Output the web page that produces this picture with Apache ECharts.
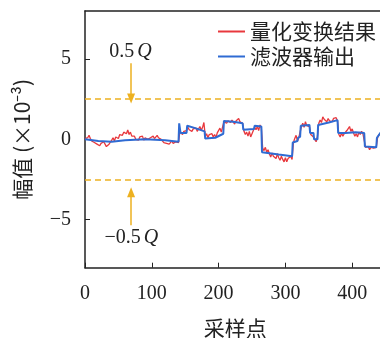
<!DOCTYPE html>
<html><head><meta charset="utf-8">
<script src="https://cdn.jsdelivr.net/npm/echarts@6/dist/echarts.min.js"></script>
<style>html,body{margin:0;padding:0;background:#fff}#c{width:380px;height:338px}</style>
</head><body><div id="c"></div>
<script>
const xTicks = [0, 100, 200, 300, 400];
const yTicks = [-5, 0, 5];
const legendNames = ['量化变换结果', '滤波器输出'];
const redStep = 2; // sample spacing of the red series
const redY = [
  0.05,-0.05,0.1,0.25,0.05,-0.1,0.0,-0.2,-0.1,-0.3,
  -0.2,-0.4,-0.25,-0.35,-0.15,-0.3,-0.45,-0.5,-0.3,-0.2,
  -0.05,0.1,-0.1,0.15,0.2,0.05,0.3,0.4,0.25,0.45,
  0.55,0.35,0.58,0.3,0.45,0.2,0.1,0.2,0.0,0.1,
  -0.05,0.15,0.05,0.2,-0.05,0.1,0.15,0.0,-0.1,0.1,
  0.05,0.2,0.05,0.15,0.25,0.1,0.2,0.0,-0.1,-0.2,
  -0.1,-0.25,-0.15,-0.3,-0.2,-0.1,-0.25,-0.3,-0.15,-0.25,
  -0.2,0.5,0.4,0.3,0.5,0.4,0.55,0.75,0.6,0.7,
  0.5,0.65,0.55,0.7,0.5,0.6,0.8,0.55,0.75,1.05,
  0.2,0.35,0.1,0.3,0.2,0.35,0.15,0.3,0.1,0.4,
  0.5,0.7,0.45,0.55,
  1.1,1.2,1.0,1.15,1.25,1.05,
  1.2,1.1,0.95,1.15,1.05,1.3,1.1,1.2,1.0,
  0.5,0.3,0.45,0.2,0.5,0.15,0.35,0.55,
  0.75,0.6,0.8,0.55,0.9,0.7,
  -0.55,-0.7,-0.5,-0.8,-0.65,-0.9,-1.1,
  -0.85,-1.05,-0.95,-1.2,-0.9,-1.15,-1.3,-1.05,-1.25,-1.4,
  -1.15,-1.4,-1.2,-1.3,-1.05,-1.25,
  -0.2,0.05,0.25,-0.1,0.1,0.15,
  0.8,1.0,0.75,1.1,0.85,0.95,0.8,
  0.3,0.4,0.15,0.25,-0.15,0.2,
  1.0,1.2,1.05,1.4,1.25,1.35,1.1,1.3,1.15,1.25,1.1,1.3,1.2,1.35,1.15,
  0.3,0.15,0.4,0.2,0.35,0.25,
  0.55,0.45,0.8,0.5,0.65,0.4,0.2,0.35,0.15,0.45,0.3,0.5,0.35,0.4,
  -0.5,-0.6,-0.45,-0.65,-0.5,-0.6,-0.55,-0.65,-0.5,
  0.1,0.3,0.2,0.35];
const blueX = [0,20,40,60,90,120,140,141,143,152,153,165,179,180,195,207,208,222,236,237,253,254,264,265,290,310,311,318,319,322,323,336,337,342,343,348,349,365,378,379,390,391,405,418,419,436,437,444];
const blueY = [0.0,-0.1,-0.15,-0.05,0.0,-0.05,-0.15,1.0,0.4,0.4,0.85,0.7,0.5,0.05,0.1,0.35,1.15,1.1,1.0,0.6,0.65,0.85,0.8,-0.8,-0.95,-1.05,-0.2,-0.1,0.1,0.15,0.85,0.9,0.4,0.4,0.0,0.0,0.9,1.05,1.2,0.4,0.4,0.5,0.45,0.4,-0.45,-0.5,0.1,0.5];
const qLevels = [2.5, -2.5];
const arrowUp = [[69, 4.75], [69, 2.55]];
const arrowDown = [[69, -5.35], [69, -3.3]];
const qLabels = [{x: 68, y: 5.45, text: '0.5'}, {x: 69.5, y: -6.15, text: '−0.5'}];

const gold = '#EDB120', red = '#E8383D', blue = '#2F6BD3', axisC = '#222';
const serif = 'Liberation Serif', cjk = 'Noto Sans CJK SC';
const chart = echarts.init(document.getElementById('c'));
const fmt = v => v < 0 ? '−' + Math.abs(v) : String(v);
chart.setOption({
  animation: false,
  grid: {left: 85, top: 11, width: 300.6, height: 256.7, outerBoundsMode: 'none', containLabel: false},
  legend: {
    data: legendNames, orient: 'vertical', left: 213, top: 16, itemGap: 4,
    icon: 'rect', itemWidth: 27, itemHeight: 2,
    textStyle: {fontFamily: cjk, fontSize: 21, color: '#222'}
  },
  xAxis: [{
    type: 'value', min: 0, max: 450, position: 'bottom',
    axisLine: {onZero: false, lineStyle: {color: axisC, width: 1.5}},
    axisTick: {inside: true, length: 5, customValues: xTicks, lineStyle: {color: axisC}},
    axisLabel: {customValues: xTicks, fontFamily: serif, fontSize: 20, color: axisC, margin: 16, formatter: fmt},
    splitLine: {show: false},
    name: '采样点', nameLocation: 'middle', nameGap: 50,
    nameTextStyle: {fontFamily: cjk, fontSize: 21, color: axisC}
  }, {
    type: 'value', min: 0, max: 450, position: 'top',
    axisLine: {show: true, onZero: false, lineStyle: {color: axisC, width: 1.5}},
    axisTick: {show: false}, axisLabel: {show: false}, splitLine: {show: false}
  }],
  yAxis: {
    type: 'value', min: -8, max: 8,
    axisLine: {show: true, onZero: false, lineStyle: {color: axisC, width: 1.5}},
    axisTick: {show: true, inside: true, length: 5, customValues: yTicks, lineStyle: {color: axisC}},
    axisLabel: {customValues: yTicks, fontFamily: serif, fontSize: 20, color: axisC, margin: 14, formatter: fmt},
    splitLine: {show: false},
    name: '幅值 (×10⁻³)', nameLocation: 'middle', nameGap: 52, nameRotate: 90,
    nameTextStyle: {fontFamily: cjk, fontSize: 21, color: axisC}
  },
  series: [{
    name: legendNames[0], type: 'line', showSymbol: false,
    data: redY.map((v, i) => [i * redStep, v]),
    lineStyle: {color: red, width: 1.3}, itemStyle: {color: red}
  }, {
    name: legendNames[1], type: 'line', showSymbol: false,
    data: blueX.map((x, i) => [x, blueY[i]]),
    lineStyle: {color: blue, width: 2}, itemStyle: {color: blue}
  }, {
    name: 'ann', type: 'line', data: [],
    markLine: {
      silent: true, symbol: 'none', label: {show: false},
      lineStyle: {color: gold, width: 1.5, type: [6, 4]},
      data: qLevels.map(v => ({yAxis: v}))
    },
    markPoint: {
      silent: true, symbol: 'circle', symbolSize: 0,
      label: {
        show: true, position: 'inside', color: axisC,
        rich: {n: {fontFamily: serif, fontSize: 20, color: axisC}, q: {fontFamily: serif, fontSize: 20, fontStyle: 'italic', color: axisC, padding: [0, 0, 0, 3]}}
      },
      data: qLabels.map(d => ({coord: [d.x, d.y], value: 0, label: {formatter: '{n|' + d.text + '}{q|Q}'}}))
    }
  }, {
    name: 'arrows', type: 'line', data: [],
    markLine: {
      silent: true, symbol: ['none', 'triangle'], symbolSize: [8, 10], label: {show: false},
      lineStyle: {color: gold, width: 1.5, type: 'solid'}, itemStyle: {color: gold},
      data: [arrowUp, arrowDown].map(a => [{coord: a[0]}, {coord: a[1]}])
    }
  }]
});
</script></body></html>
